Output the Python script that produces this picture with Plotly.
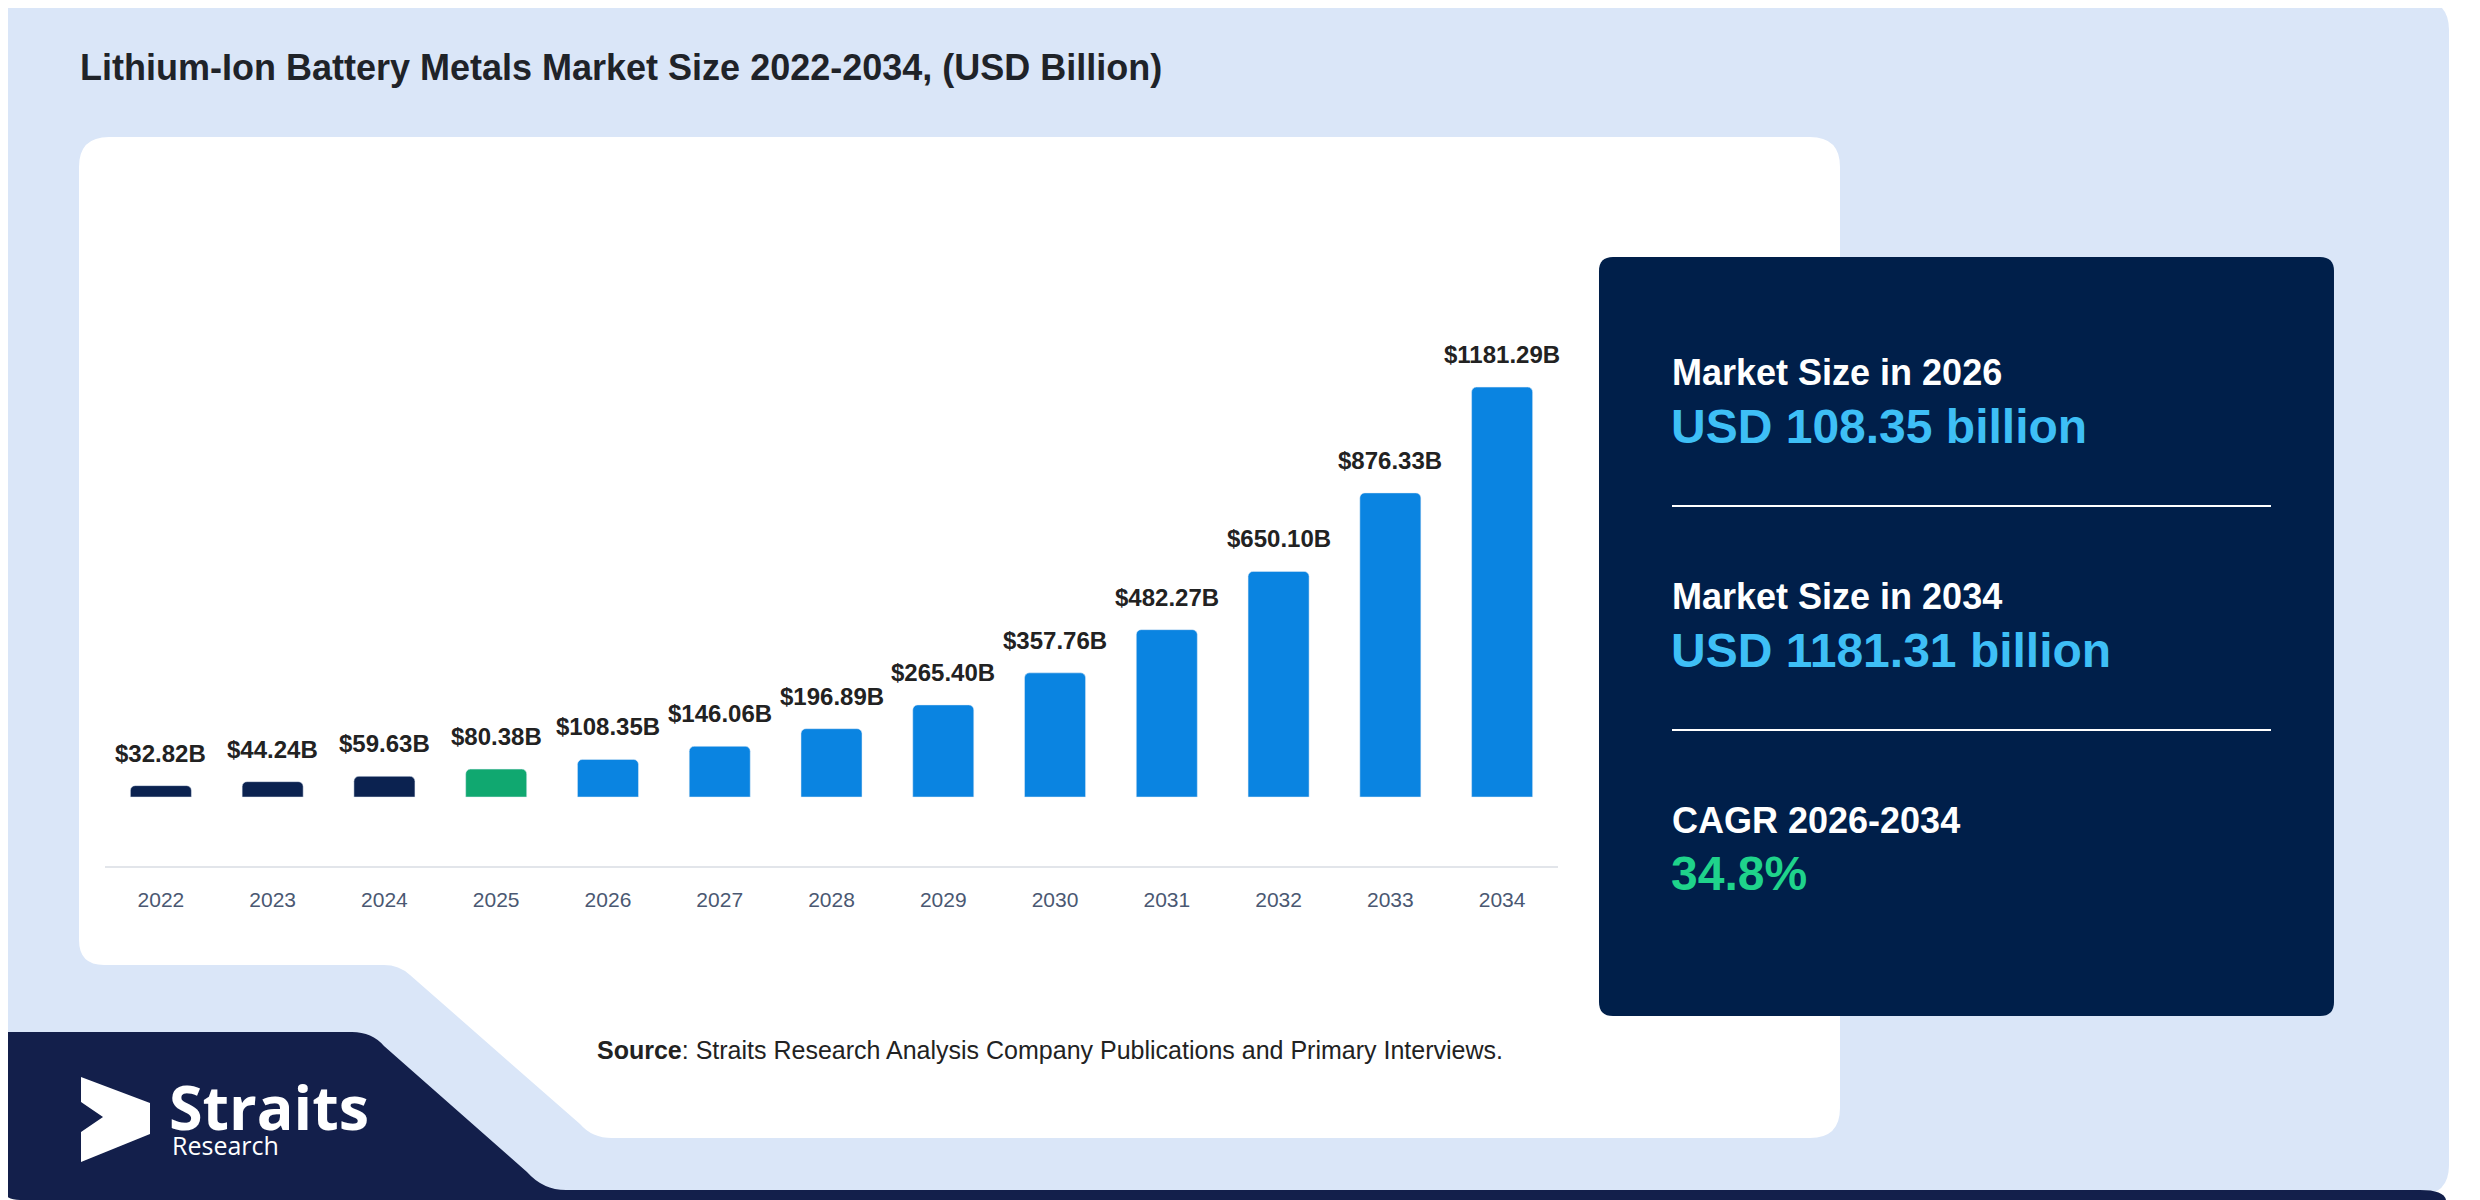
import re
import plotly.graph_objects as go

W, H = 2480, 1200
OFF = 8  # the page body adds an 8px margin, so pull everything back by that much

# data
years = ["2022", "2023", "2024", "2025", "2026", "2027", "2028",
         "2029", "2030", "2031", "2032", "2033", "2034"]
values = [32.82, 44.24, 59.63, 80.38, 108.35, 146.06, 196.89,
          265.40, 357.76, 482.27, 650.10, 876.33, 1181.29]
history_years = ["2022", "2023", "2024"]
base_year = "2025"

title = "Lithium-Ion Battery Metals Market Size 2022-2034, (USD Billion)"
panel_heads = ["Market Size in 2026", "Market Size in 2034", "CAGR 2026-2034"]
panel_values = ["USD 108.35 billion", "USD 1181.31 billion", "34.8%"]
source_text = "<b>Source</b>: Straits Research Analysis Company Publications and Primary Interviews."

NAVY = "#0b2250"
GREEN = "#10a870"
BLUE = "#0a84e1"


def bar_color(y):
    if y in history_years:
        return NAVY
    if y == base_year:
        return GREEN
    return BLUE


def to_paper(x, y):
    # screen pixel -> paper coords
    return (x - OFF) / W, 1 - (y - OFF) / H


def pth(s):
    # turn a pixel path "M x y L x y ..." into paper coords
    toks = re.findall(r"[A-Za-z]|-?\d+\.?\d*", s)
    out, nums = [], []
    for t in toks:
        if t.isalpha():
            out.append(t)
        else:
            nums.append(float(t))
            if len(nums) == 2:
                x, y = to_paper(*nums)
                out.append(f"{x:.5f},{y:.5f}")
                nums = []
    return " ".join(out)


def rrect(x0, y0, x1, y1, r):
    return pth(f"M {x0} {y0+r} Q {x0} {y0} {x0+r} {y0} L {x1-r} {y0} Q {x1} {y0} {x1} {y0+r} "
               f"L {x1} {y1-r} Q {x1} {y1} {x1-r} {y1} L {x0+r} {y1} Q {x0} {y1} {x0} {y1-r} Z")


def shape(path, color):
    return dict(type="path", xref="paper", yref="paper", path=path,
                fillcolor=color, line=dict(width=0), layer="below")


fig = go.Figure()
fig.add_trace(go.Bar(x=years, y=values, marker=dict(color=[bar_color(y) for y in years]),
                     hoverinfo="skip"))

shapes = []
# outer light blue card
shapes.append(shape(rrect(0, 0, 2449, 1195, 30), "#dae6f8"))
# navy logo band bottom-left
shapes.append(shape(pth("M 0 1032 L 352 1032 Q 372 1032 384 1046 L 527 1172 "
                        "Q 543 1190 566 1190 L 2420 1190 Q 2444 1190 2446 1200 "
                        "L 20 1200 Q 0 1200 0 1180 Z"), "#131f4b"))
# white chart card with notch
shapes.append(shape(pth("M 79 167 Q 79 137 109 137 L 1810 137 Q 1840 137 1840 167 "
                        "L 1840 1108 Q 1840 1138 1810 1138 L 612 1138 Q 592 1138 580 1124 "
                        "L 410 975 Q 399 965 384 965 L 104 965 Q 79 965 79 940 Z"), "white"))
# right navy panel
shapes.append(shape(rrect(1599, 257, 2334, 1016, 14), "#001f4a"))
# panel separator lines
for ly in [506, 730]:
    x0, y0 = to_paper(1672, ly)
    x1, _ = to_paper(2271, ly)
    shapes.append(dict(type="line", xref="paper", yref="paper", x0=x0, x1=x1, y0=y0, y1=y0,
                       line=dict(color="white", width=2), layer="above"))
# logo chevron
shapes.append(dict(type="path", xref="paper", yref="paper",
                   path=pth("M 81 1077 L 150 1103 L 150 1134 L 81 1162 L 81 1132 "
                            "L 103 1117 L 81 1102 Z"),
                   fillcolor="white", line=dict(width=0), layer="above"))

annotations = []
# value labels above bars
for i, v in enumerate(values):
    annotations.append(dict(x=i, y=v, xref="x", yref="y", text=f"<b>${v:.2f}B</b>",
                            showarrow=False, yanchor="bottom", yshift=17,
                            font=dict(size=24, color="#222222", family="Liberation Sans")))


def note(x, y, text, size, color, family="Liberation Sans", xanchor="left", yanchor="middle"):
    ax, ay = to_paper(x, y)
    annotations.append(dict(x=ax, y=ay, xref="paper", yref="paper", text=text,
                            showarrow=False, xanchor=xanchor, yanchor=yanchor,
                            font=dict(size=size, color=color, family=family)))


note(78, 67, f"<b>{title}</b>", 36, "#1f2329")
head_y = [372, 596, 820]
val_y = [426, 650, 873]
val_colors = ["#3ebff6", "#3ebff6", "#1fd38b"]
for hy, vy, h, v, c in zip(head_y, val_y, panel_heads, panel_values, val_colors):
    note(1670, hy, f"<b>{h}</b>", 36, "white")
    note(1669, vy, f"<b>{v}</b>", 48, c)
note(595, 1050, source_text, 25, "#222222")
note(167, 1150, "<b>Straits</b>", 61, "white", family="Open Sans", yanchor="bottom")
note(170, 1126, "Research", 25, "white", family="Open Sans", yanchor="top")

fig.update_layout(
    width=W, height=H,
    margin=dict(l=0, r=0, t=0, b=0, pad=0),
    paper_bgcolor="white",
    plot_bgcolor="rgba(0,0,0,0)",
    showlegend=False,
    bargap=0.454,
    barcornerradius=5,
    shapes=shapes,
    annotations=annotations,
    xaxis=dict(type="category", categoryorder="array", categoryarray=years,
               range=[-0.5, len(years) - 0.5],
               domain=[(105 - OFF) / W, (1558 - OFF) / W], showline=True,
               linecolor="#e2e5ea", linewidth=2, showgrid=False, zeroline=False,
               ticks="", ticklabelstandoff=14,
               tickfont=dict(size=21, color="#4a5872", family="Liberation Sans")),
    yaxis=dict(domain=[1 - (866 - OFF) / H, 1 - (300 - OFF) / H],
               range=[-198.8, 1432.3], visible=False),
)

fig.write_html("out.html")
